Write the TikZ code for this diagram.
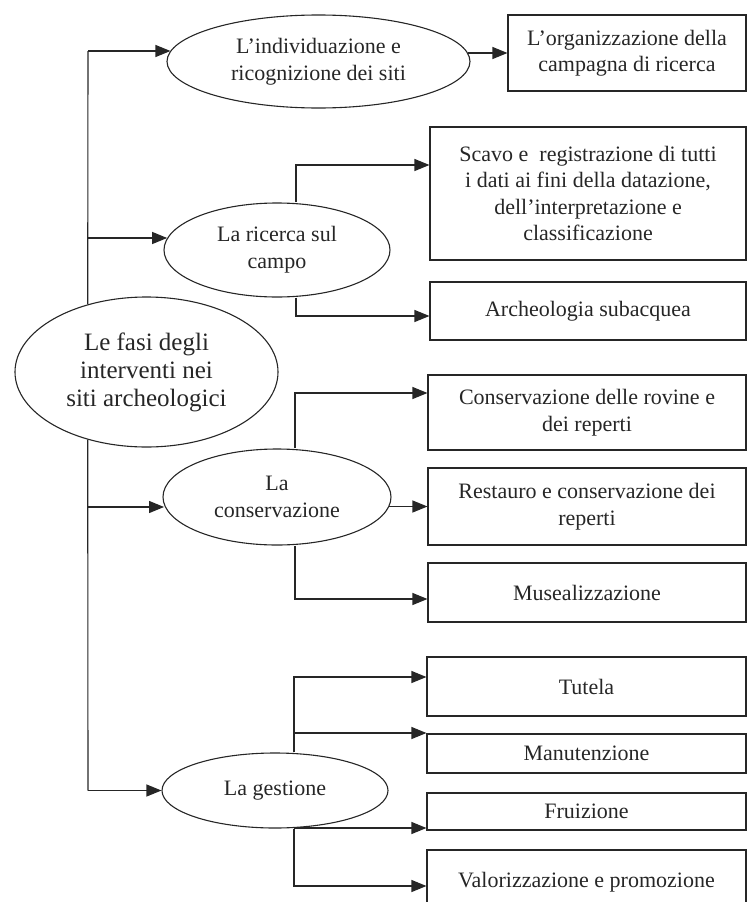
\documentclass[tikz,border=0pt]{standalone}
\usepackage{fontspec}
\setmainfont{Liberation Serif}
\usetikzlibrary{arrows.meta,calc,shapes.geometric}
\begin{document}
\begin{tikzpicture}[x=1pt,y=-1pt,
  line width=1.1pt, draw=black!85, text=black!85,
  ell/.style={ellipse,draw,inner sep=0pt,align=center,font=\fontsize{22}{27}\selectfont},
  box/.style={rectangle,draw,inner sep=0pt,align=center,font=\fontsize{22}{26.5}\selectfont},
  arr/.style={-{Triangle[length=15pt,width=12pt]}}
]
\useasboundingbox (0,0) rectangle (748,902);

% ellipses
\node[ell,minimum width=303pt,minimum height=93pt] (top) at (318.5,61.5) {L’individuazione e\\ricognizione dei siti};
\node[ell,minimum width=263pt,minimum height=150pt,font=\fontsize{25}{28}\selectfont] (root) at (146.5,372) {Le fasi degli\\interventi nei\\siti archeologici};
\node[ell,minimum width=226pt,minimum height=94pt] (ric) at (277,250) {La ricerca sul\\campo};
\node[ell,minimum width=228pt,minimum height=96pt] (cons) at (277,497) {La\\conservazione};
\node[ell,minimum width=226pt,minimum height=75pt] (gest) at (275,790.5) {La gestione};

% boxes
\node[box,minimum width=238pt,minimum height=76pt] (org) at (627,53) {L’organizzazione della\\campagna di ricerca};
\node[box,minimum width=316pt,minimum height=133pt] (scavo) at (588,193.5) {Scavo e \ registrazione di tutti\\i dati ai fini della datazione,\\dell’interpretazione e\\classificazione};
\node[box,minimum width=316pt,minimum height=58pt] (arch) at (588,311) {Archeologia subacquea};
\node[box,minimum width=318pt,minimum height=75pt] (rov) at (587,412.5) {Conservazione delle rovine e\\dei reperti};
\node[box,minimum width=318pt,minimum height=77pt] (rest) at (587,506.5) {Restauro e conservazione dei\\reperti};
\node[box,minimum width=318pt,minimum height=59pt] (mus) at (587,592.5) {Musealizzazione};
\node[box,minimum width=319pt,minimum height=59pt] (tut) at (586.5,686.5) {Tutela};
\node[box,minimum width=319pt,minimum height=39pt] (man) at (586.5,753.5) {Manutenzione};
\node[box,minimum width=319pt,minimum height=37pt] (fru) at (586.5,811.5) {Fruizione};
\node[box,minimum width=319pt,minimum height=65pt] (val) at (586.5,882.5) {Valorizzazione e promozione};

% spine
\coordinate (s1) at (88,51);
\coordinate (s2) at (88,238);
\coordinate (s3) at (88,507);
\coordinate (s4) at (88,790.5);
\draw (root.131) -- (s1);
\draw (root.229) -- (s4);
\draw[arr] (s1) -- ($(s1 -| top.west)+(4,0)$);
\draw[arr] (s2) -- ($(s2 -| ric.west)+(3.7,0)$);
\draw[arr] (s3) -- ($(s3 -| cons.west)+(1.6,0)$);
\draw[arr] (s4) -- (gest.west);

% top -> org
\draw[arr] ($(top.east |- org.west)+(-2.5,0)$) -- (org.west);

% ricerca branches
\coordinate (r1) at (296,165);
\coordinate (r2) at (296,316);
\draw[arr] (ric.north -| r1) -- (r1) -- (r1 -| scavo.west);
\draw[arr] (ric.south -| r2) -- (r2) -- (r2 -| arch.west);

% conservazione branches
\coordinate (c1) at (295,393);
\coordinate (c3) at (295,599);
\draw[arr] (cons.north -| c1) -- (c1) -- (c1 -| rov.west);
\draw[arr] ($(cons.east)+(-2.3,9.5)$) -- (rest.west);
\draw[arr] (cons.south -| c3) -- (c3) -- (c3 -| mus.west);

% gestione branches
\coordinate (g1) at (294,677);
\coordinate (g2) at (294,733);
\coordinate (g3) at (294,828);
\coordinate (g4) at (294,886);
\draw[arr] (gest.north -| g1) -- (g1) -- (g1 -| tut.west);
\draw[arr] (g2) -- (g2 -| man.west);
\draw[arr] (g3) -- (g3 -| fru.west);
\draw[arr] (gest.south -| g4) -- (g4) -- (g4 -| val.west);
\end{tikzpicture}
\end{document}
